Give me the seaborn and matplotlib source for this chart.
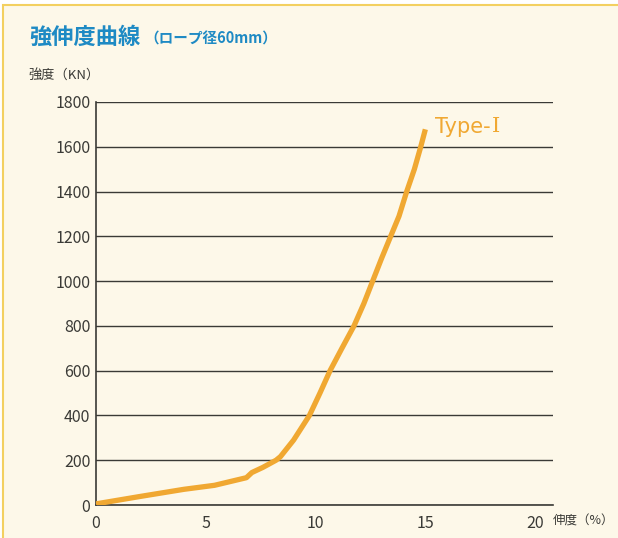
import numpy as np
import pandas as pd
import matplotlib.pyplot as plt
import seaborn as sns
from matplotlib.patches import Rectangle

# --- data ---
elongation = [0, 2.0, 4.0, 5.4, 6.85, 7.1, 7.6, 8.2, 8.4, 9.0, 9.72, 10.2,
              10.66, 11.2, 11.75, 12.2, 12.6, 13.0, 13.42, 13.8, 14.15,
              14.5, 14.79, 15.0]
strength = [5, 38, 70, 88, 122, 145, 168, 200, 216, 290, 400, 500,
            600, 700, 800, 900, 1000, 1100, 1200, 1290, 1400,
            1500, 1600, 1678]
x_ticks = [0, 5, 10, 15, 20]
y_ticks = [0, 200, 400, 600, 800, 1000, 1200, 1400, 1600, 1800]

df = pd.DataFrame({'伸度': elongation, '強度': strength})

sns.set_style('white')
plt.rcParams['font.family'] = ['Noto Sans CJK JP', 'DejaVu Sans']

cream = '#fdf8e9'
orange = '#f0a832'
blue = '#1e8ac4'
dark = '#3a3a36'

fig = plt.figure(figsize=(6.18, 5.38), dpi=100)
fig.patch.set_facecolor('white')
# framed panel
fig.patches.append(Rectangle((3 / 618, -0.1), 1.1, 1 - 5 / 538 + 0.1,
                             transform=fig.transFigure, facecolor=cream,
                             edgecolor='#f3d060', linewidth=1.5, zorder=-10))

ax = fig.add_axes([96 / 618, 33 / 538, (552.7 - 96) / 618, (505 - 102) / 538])
ax.patch.set_alpha(0)

sns.lineplot(data=df, x='伸度', y='強度', ax=ax, color=orange, linewidth=3.8,
             solid_capstyle='butt', zorder=3)

ax.set_xlim(0, 20.8)
ax.set_ylim(0, 1800)
ax.set_xticks(x_ticks)
ax.set_yticks(y_ticks)
ax.yaxis.grid(True, color=dark, linewidth=1.0)
ax.set_axisbelow(True)
for s in ['top', 'right']:
    ax.spines[s].set_visible(False)
for s in ['left', 'bottom']:
    ax.spines[s].set_color(dark)
    ax.spines[s].set_linewidth(1.2)
ax.tick_params(axis='y', length=0, labelsize=11.5, colors=dark, pad=4)
ax.tick_params(axis='x', length=0, labelsize=11.5, colors=dark, pad=7)
ax.set_xlabel('')
ax.set_ylabel('')

t1 = ax.text(15.45, 1690, 'Type-', color=orange, fontsize=15, va='center',
             ha='left', family=['DejaVu Sans'])
ax.annotate('I', xy=(1, 0.5), xycoords=t1, xytext=(1, 0),
            textcoords='offset points', color=orange, fontsize=15,
            va='center', ha='left', family=['DejaVu Serif'])

fig.text(29 / 618, 1 - 37 / 538, '強伸度曲線', color=blue, fontsize=16,
         fontweight='bold', va='center', ha='left')
fig.text(144 / 618, 1 - 39 / 538, '（ロープ径60mm）', color=blue, fontsize=10.5,
         fontweight='bold', va='center', ha='left')
fig.text(28 / 618, 1 - 75 / 538, '強度（KN）', color=dark, fontsize=9.5,
         va='center', ha='left')
fig.text(553 / 618, 1 - 521 / 538, '伸度（%）', color=dark, fontsize=9,
         va='center', ha='left')

fig.savefig('out.png', dpi=100, facecolor=fig.get_facecolor())
